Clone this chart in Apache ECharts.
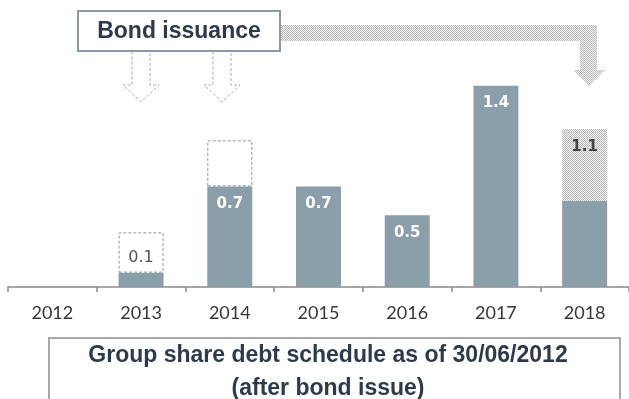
<!DOCTYPE html>
<html>
<head>
<meta charset="utf-8">
<script src="https://cdn.jsdelivr.net/npm/echarts@6/dist/echarts.min.js"></script>
<style>html,body{margin:0;padding:0;background:#fff}#c{width:629px;height:399px}</style>
</head>
<body>
<div id="c"></div>
<script>
// ---- data ----
const years = ['2012','2013','2014','2015','2016','2017','2018'];
const existingDebt = [0, 0.1, 0.7, 0.7, 0.5, 1.4, 0.6];
const bondIssueEarly = [null, 0.28, 0.32, null, null, null, null];
const bondIssue2018 = [null, null, null, null, null, null, 0.5];
const existingLabels = ['', '', '0.7', '0.7', '0.5', '1.4', ''];
const earlyLabels = ['', '0.1', '', '', '', '', ''];
const lateLabels = ['', '', '', '', '', '', '1.1'];
const headerText = 'Bond issuance';
const footerLines = ['Group share debt schedule as of 30/06/2012', '(after bond issue)'];

// stipple pattern
function stipple() {
  const c = document.createElement('canvas');
  c.width = 2; c.height = 2;
  const g = c.getContext('2d');
  g.fillStyle = '#efefef'; g.fillRect(0,0,2,2);
  g.fillStyle = '#bcbcbc'; g.fillRect(0,0,1,1); g.fillRect(1,1,1,1);
  return c;
}
const pat = stipple();

const chart = echarts.init(document.getElementById('c'), null, {renderer:'canvas'});
const barColor = '#8b9faa';
chart.setOption({
  animation: false,
  grid: {left: 8, width: 625, top: 57, bottom: 112},
  xAxis: {
    type: 'category', data: years,
    axisLine: {lineStyle: {color: '#8a8a8a', width: 1.5}},
    axisTick: {show: true, length: 5, lineStyle: {color: '#8a8a8a', width: 1.5}},
    axisLabel: {color: '#383838', fontFamily: 'Lato', fontSize: 18, margin: 17}
  },
  yAxis: {type: 'value', min: 0, max: 1.6, show: false},
  series: [
    {
      type: 'bar', stack: 's', barWidth: 45, data: existingDebt,
      itemStyle: {color: barColor},
      label: {show: true, position: 'insideTop', distance: 10, color: '#fff',
        fontFamily: 'DejaVu Sans', fontWeight: 'bold', fontSize: 15,
        formatter: p => existingLabels[p.dataIndex]}
    },
    {
      type: 'bar', stack: 's', barWidth: 45, data: bondIssueEarly,
      itemStyle: {color: '#fff', borderColor: '#959595', borderWidth: 1, borderType: [3, 2]},
      label: {show: true, position: 'insideBottom', distance: 7, color: '#555',
        fontFamily: 'DejaVu Sans', fontSize: 16,
        formatter: p => earlyLabels[p.dataIndex]}
    },
    {
      type: 'bar', stack: 's', barWidth: 45, data: bondIssue2018,
      itemStyle: {color: {image: pat, repeat: 'repeat'}},
      label: {show: true, position: 'insideTop', distance: 11, color: '#444',
        fontFamily: 'DejaVu Sans', fontWeight: 'bold', fontSize: 15,
        formatter: p => lateLabels[p.dataIndex]}
    }
  ],
  graphic: [
    // big stippled arrow
    {type: 'polygon', z: 1, shape: {points: [[280,25],[597,25],[597,70],[605,70],[589,86],[573,70],[580,70],[580,41],[280,41]]},
      style: {fill: {image: pat, repeat: 'repeat'}}},
    // header box
    {type: 'rect', z: 5, shape: {x: 78, y: 11, width: 202, height: 40},
      style: {fill: '#fff', stroke: '#8c9aa4', lineWidth: 2}},
    {type: 'text', z: 6, x: 179, y: 32,
      style: {text: headerText, fill: '#2e3a4b', font: 'bold 23px "Liberation Sans", Arial', align: 'center', verticalAlign: 'middle'}},
    // hollow arrows
    {type: 'polygon', z: 3, shape: {points: [[132,51],[150,51],[150,85],[159,85],[141,102],[123,85],[132,85]]},
      style: {fill: '#fff', stroke: '#ababab', lineWidth: 1, lineDash: [3,2]}},
    {type: 'polygon', z: 3, shape: {points: [[213,51],[231,51],[231,85],[240,85],[222,102],[204,85],[213,85]]},
      style: {fill: '#fff', stroke: '#ababab', lineWidth: 1, lineDash: [3,2]}},
    // footer box
    {type: 'rect', z: 5, shape: {x: 49, y: 338, width: 571, height: 80},
      style: {fill: '#fff', stroke: '#a8a8a8', lineWidth: 2}},
    {type: 'text', z: 6, x: 328, y: 356,
      style: {text: footerLines[0], fill: '#2e3a4b', font: 'bold 23px "Liberation Sans", Arial', align: 'center', verticalAlign: 'middle'}},
    {type: 'text', z: 6, x: 328, y: 389,
      style: {text: footerLines[1], fill: '#2e3a4b', font: 'bold 23px "Liberation Sans", Arial', align: 'center', verticalAlign: 'middle'}}
  ]
});
</script>
</body>
</html>
